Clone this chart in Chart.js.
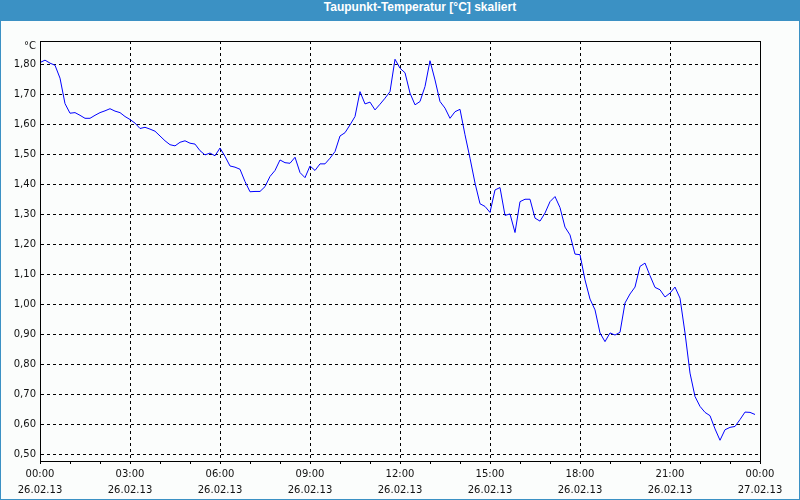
<!DOCTYPE html>
<html><head><meta charset="utf-8">
<script src="https://cdn.jsdelivr.net/npm/chart.js@4"></script>
<style>
html,body{margin:0;padding:0;background:#3b91c4;}
#frame{position:relative;width:800px;height:500px;background:#3b91c4;overflow:hidden;}
#title{position:absolute;left:0;top:0;width:800px;height:21px;line-height:21px;text-align:center;color:#fff;font:bold 12px "Liberation Sans",Arial,sans-serif;padding-left:40px;box-sizing:border-box;}
#wrap{position:absolute;left:1px;top:21px;width:798px;height:478px;background:#fbfdfc;}
</style></head><body>
<div id="frame"><div id="title">Taupunkt-Temperatur [°C] skaliert</div><div id="wrap"><canvas id="c" width="798" height="478"></canvas></div></div>
<script>
// Sampling: one reading every 10 minutes from 26.02.13 00:00
const sampleMinutes = 10;
const dewPoint = [
1.807,1.815,1.805,1.798,1.755,1.670,1.638,1.640,1.631,1.621,1.621,1.631,
1.640,1.646,1.653,1.645,1.640,1.627,1.617,1.605,1.587,1.591,1.585,1.578,
1.562,1.546,1.533,1.529,1.541,1.546,1.538,1.535,1.513,1.499,1.505,1.496,
1.522,1.494,1.462,1.458,1.451,1.410,1.376,1.377,1.377,1.393,1.427,1.447,
1.482,1.473,1.471,1.491,1.440,1.423,1.462,1.447,1.469,1.469,1.488,1.510,
1.562,1.573,1.599,1.627,1.710,1.669,1.675,1.649,1.668,1.688,1.710,1.818,
1.788,1.773,1.705,1.666,1.677,1.727,1.813,1.749,1.677,1.655,1.621,1.643,
1.651,1.566,1.488,1.405,1.336,1.327,1.307,1.382,1.390,1.297,1.302,1.240,
1.343,1.351,1.351,1.288,1.278,1.305,1.343,1.360,1.323,1.258,1.232,1.168,
1.166,1.082,1.018,0.982,0.905,0.876,0.905,0.898,0.907,1.005,1.035,1.058,
1.127,1.138,1.096,1.057,1.049,1.025,1.038,1.058,1.021,0.905,0.771,0.693,
0.660,0.640,0.629,0.585,0.547,0.582,0.590,0.593,0.616,0.641,0.640,0.633
];
const tickTimes = ['00:00','03:00','06:00','09:00','12:00','15:00','18:00','21:00','00:00'];
const tickDates = ['26.02.13','26.02.13','26.02.13','26.02.13','26.02.13','26.02.13','26.02.13','26.02.13','27.02.13'];
const hourTicks = [0,1,2,3,4,5,6,7,8,9,10,11,12,13,14,15,16,17,18,19,20,21,22,23,24];
const yTicks = [0.5,0.6,0.7,0.8,0.9,1.0,1.1,1.2,1.3,1.4,1.5,1.6,1.7,1.8];
const yMin = 0.4778, yMax = 1.8789;
const unitLabel = '°C';

const points = dewPoint.map((v,i)=>({x: i*sampleMinutes/60, y: v}));

const frameBox = {
  id:'frameBox',
  afterDraw(chart){
    const {ctx, chartArea:a} = chart;
    ctx.save();
    ctx.strokeStyle='#000'; ctx.lineWidth=1; ctx.setLineDash([]);
    ctx.strokeRect(Math.round(a.left)+0.5, Math.round(a.top)+0.5, Math.round(a.right-a.left), Math.round(a.bottom-a.top));
    ctx.font='10px "DejaVu Sans"'; ctx.fillStyle='#111'; ctx.textAlign='right'; ctx.textBaseline='middle';
    ctx.fillText(unitLabel, a.left-4, a.top+5);
    ctx.restore();
  }
};

const font = {family:'"DejaVu Sans"', size:10, lineHeight:'16px'};
new Chart(document.getElementById('c'), {
  type:'line',
  data:{datasets:[{data:points, borderColor:'#0000ff', borderWidth:1, pointRadius:0, tension:0, fill:false}]},
  options:{
    responsive:false, animation:false, devicePixelRatio:1,
    layout:{padding:{left:0,right:39,top:20,bottom:0}},
    plugins:{legend:{display:false}, tooltip:{enabled:false}},
    scales:{
      x:{type:'linear', min:0, max:24,
        afterBuildTicks:s=>{s.ticks=hourTicks.map(v=>({value:v}));},
        afterFit:s=>{s.height=38;},
        ticks:{autoSkip:false, maxRotation:0, minRotation:0, padding:2, color:'#111', font,
          callback:(v)=> (v%3===0) ? [tickTimes[v/3], tickDates[v/3]] : ''},
        grid:{color:c=> (c.tick && c.tick.value%3===0 && c.tick.value>0 && c.tick.value<24) ? '#000' : 'rgba(0,0,0,0)',
          tickColor:'#000', tickLength:3, lineWidth:1},
        border:{display:true, color:'#000', width:1, dash:[3,3]}
      },
      y:{type:'linear', min:yMin, max:yMax,
        afterBuildTicks:s=>{s.ticks=yTicks.map(v=>({value:v}));},
        afterFit:s=>{s.width=39;},
        ticks:{padding:4, color:'#111', font:{family:'"DejaVu Sans"', size:10},
          callback:v=>v.toFixed(2).replace('.',',')},
        grid:{color:'#000', lineWidth:1, drawTicks:false},
        border:{display:true, color:'#000', width:1, dash:[3,3]}
      }
    }
  },
  plugins:[frameBox]
});
</script>
</body></html>
